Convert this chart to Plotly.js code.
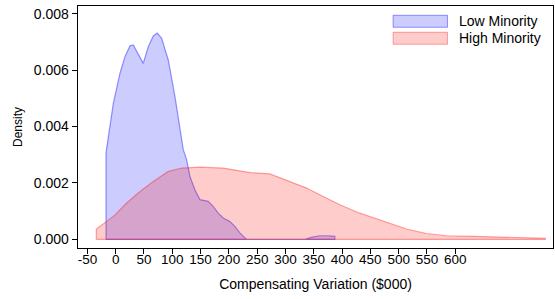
<!DOCTYPE html>
<html>
<head>
<meta charset="utf-8">
<script src="https://cdn.plot.ly/plotly-3.0.1.min.js"></script>
<style>html,body{margin:0;padding:0;background:#fff;}#chart{width:555px;height:299px;}</style>
</head>
<body>
<div id="chart"></div>
<script>
// Low Minority density (Compensating Variation, $000)
var lowX = [-17.1, -17.1, -4.2, 7.6, 16.4, 25.3, 31.1, 39.9, 48.7, 57.6, 66.4, 73.5, 81.2, 92.9, 104.7, 119.4, 125.4, 131.2, 140.0, 148.9, 163.5, 172.3, 181.2, 190.0, 201.8, 210.6, 219.5, 231.3, 334.3, 347.0, 360.8, 375.0, 387.3, 387.3];
var lowY = [0, 0.00307, 0.00482, 0.00589, 0.00648, 0.00686, 0.00689, 0.00654, 0.00624, 0.00683, 0.00721, 0.00731, 0.00713, 0.00636, 0.00506, 0.00318, 0.00282, 0.00223, 0.00176, 0.00141, 0.00135, 0.00117, 0.00093, 0.00076, 0.00064, 0.00046, 0.00023, 0, 0, 0.00008, 0.00013, 0.00013, 0.00011, 0];
// High Minority density
var highX = [-34.3, -34.3, -15.9, -1.2, 19.4, 42.9, 66.4, 92.9, 116.5, 148.9, 190.0, 237.2, 272.5, 307.8, 337.3, 366.6, 396.1, 431.4, 466.7, 490.2, 513.9, 549.2, 584.5, 631.5, 672.8, 713.9, 759.3, 759.3];
var highY = [0, 0.00037, 0.00064, 0.00087, 0.00129, 0.00170, 0.00205, 0.00241, 0.00253, 0.00256, 0.00253, 0.00237, 0.00232, 0.00205, 0.00182, 0.00152, 0.00123, 0.00093, 0.00068, 0.00052, 0.00037, 0.00021, 0.00013, 0.00011, 0.00008, 0.00006, 0.00004, 0];
var seriesNames = ["Low Minority", "High Minority"];
var xTicks = [-50, 0, 50, 100, 150, 200, 250, 300, 350, 400, 450, 500, 550, 600];
var yTicks = [0, 0.002, 0.004, 0.006, 0.008];
var yTickText = ["0.000", "0.002", "0.004", "0.006", "0.008"];

function closed(xs, ys) {
  return {x: xs.concat([xs[0]]), y: ys.concat([0])};
}
var lo = closed(lowX, lowY), hi = closed(highX, highY);
var font = "Liberation Sans, Arial, sans-serif";
var traces = [
  {x: lo.x, y: lo.y, type: 'scatter', mode: 'lines', fill: 'toself', name: seriesNames[0],
   fillcolor: 'rgba(0,0,255,0.2)', line: {color: 'rgba(0,0,255,0.4)', width: 1.2}, showlegend: false, hoverinfo: 'skip'},
  {x: hi.x, y: hi.y, type: 'scatter', mode: 'lines', fill: 'toself', name: seriesNames[1],
   fillcolor: 'rgba(255,0,0,0.2)', line: {color: 'rgba(255,0,0,0.35)', width: 1.2}, showlegend: false, hoverinfo: 'skip'}
];
var layout = {
  width: 555, height: 299,
  margin: {l: 78, r: 2, t: 6, b: 51},
  paper_bgcolor: '#fff', plot_bgcolor: '#fff',
  font: {family: font, color: '#000'},
  xaxis: {range: [-66.6, 772.7], tickvals: xTicks, ticktext: xTicks.map(String),
    ticks: 'outside', ticklen: 5, tickwidth: 1, tickcolor: '#000', ticklabelstandoff: -7,
    showline: true, linecolor: '#000', linewidth: 1.3, mirror: true,
    showgrid: false, zeroline: false, tickfont: {size: 13.5},
    title: {text: 'Compensating Variation ($000)', font: {size: 14}, standoff: 13}},
  yaxis: {range: [-0.000304, 0.008273], tickvals: yTicks, ticktext: yTickText,
    ticks: 'outside', ticklen: 5, tickwidth: 1, tickcolor: '#000',
    showline: true, linecolor: '#000', linewidth: 1.3, mirror: true,
    showgrid: false, zeroline: false, tickfont: {size: 14},
    title: {text: 'Density', font: {size: 12}, standoff: 8}},
  shapes: [
    {type: 'rect', xref: 'paper', yref: 'paper', x0: 0.6634, x1: 0.7778, y0: 0.9121, y1: 0.9616,
     fillcolor: 'rgba(0,0,255,0.2)', line: {color: 'rgba(0,0,255,0.4)', width: 1}},
    {type: 'rect', xref: 'paper', yref: 'paper', x0: 0.6634, x1: 0.7778, y0: 0.8419, y1: 0.8915,
     fillcolor: 'rgba(255,0,0,0.2)', line: {color: 'rgba(255,0,0,0.35)', width: 1}}
  ],
  annotations: [
    {xref: 'paper', yref: 'paper', x: 0.798, y: 0.9369, xanchor: 'left', yanchor: 'middle', showarrow: false,
     text: seriesNames[0], font: {size: 14}},
    {xref: 'paper', yref: 'paper', x: 0.798, y: 0.8667, xanchor: 'left', yanchor: 'middle', showarrow: false,
     text: seriesNames[1], font: {size: 14}}
  ]
};
Plotly.newPlot('chart', traces, layout, {displayModeBar: false, staticPlot: true});
</script>
</body>
</html>
